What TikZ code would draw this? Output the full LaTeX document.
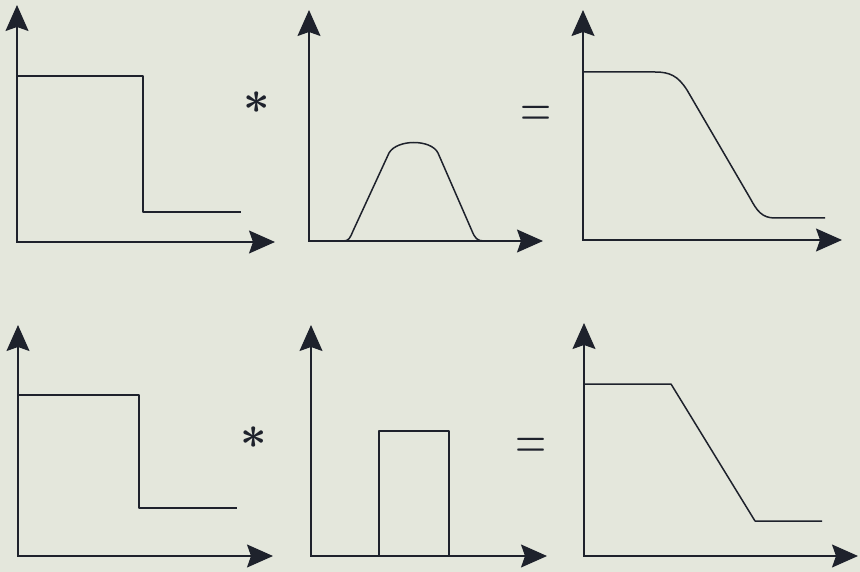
\documentclass[tikz,border=0pt]{standalone}
\usetikzlibrary{arrows.meta}
\definecolor{paper}{RGB}{228,231,220}
\definecolor{ink}{RGB}{30,34,44}
\tikzset{
  axes/.style={draw=ink, line width=1.6pt, line join=miter,
    {Stealth[length=26pt,width=23pt,inset=4pt]}-{Stealth[length=26pt,width=23pt,inset=4pt]}},
  curve/.style={draw=ink, line width=1.5pt, line join=round},
  sym/.style={text=ink, inner sep=0pt}
}
\begin{document}
\begin{tikzpicture}[x=1pt,y=-1pt]
\fill[paper] (0,0) rectangle (860,572);
\useasboundingbox (0,0) rectangle (860,572);
% top row
\draw[axes] (17,5) -- (17,242) -- (275,242);
\draw[curve] (17,76) -- (143,76) -- (143,212) -- (241,212);
\node[sym] (ast1) at (257,103) {\scalebox{4.6}{\boldmath$\ast$}};
\draw[axes] (309,10) -- (309,241) -- (543,241);
\draw[curve] (309,241) -- (343,241) .. controls (349,241) and (350,238) .. (353,231) -- (389,153)
  .. controls (397,139) and (431,139) .. (438,153) -- (472,231)
  .. controls (475,238) and (477,241) .. (484,241);
\node[sym] (eq1) at (536,116) {\scalebox{4}[5.5]{$=$}};
\draw[axes] (583,10) -- (583,240) -- (842,240);
\draw[curve] (583,72) -- (655,72) .. controls (670,72) and (678,76) .. (687,90) -- (750,198)
  .. controls (757,211) and (762,218) .. (775,218) -- (825,218);
% bottom row
\draw[axes] (18,325) -- (18,556) -- (273,556);
\draw[curve] (18,395) -- (139,395) -- (139,508) -- (237,508);
\node[sym] (ast2) at (254,438) {\scalebox{4.6}{\boldmath$\ast$}};
\draw[axes] (311,325) -- (311,556) -- (547,556);
\draw[curve] (379,556) -- (379,431) -- (449,431) -- (449,556);
\node[sym] (eq2) at (531,448) {\scalebox{4}[5.5]{$=$}};
\draw[axes] (584,323) -- (584,556) -- (858,556);
\draw[curve] (584,384) -- (671,384) -- (755,521) -- (822,521);
\end{tikzpicture}
\end{document}
